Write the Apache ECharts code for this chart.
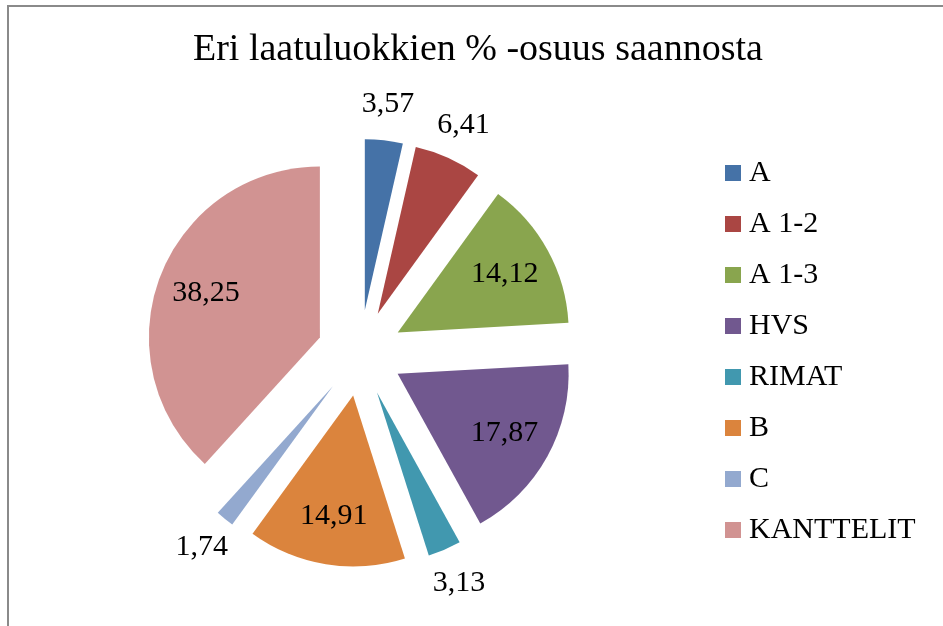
<!DOCTYPE html>
<html>
<head>
<meta charset="utf-8">
<style>
  html, body { margin: 0; padding: 0; background: #fff; }
  #chart { width: 943px; height: 626px; }
</style>
<script src="https://cdn.jsdelivr.net/npm/echarts@6/dist/echarts.min.js"></script>
</head>
<body>
<div id="chart"></div>
<script>
// laatuluokat ja osuudet (%)
var categories = ['A', 'A 1-2', 'A 1-3', 'HVS', 'RIMAT', 'B', 'C', 'KANTTELIT'];
var values = [3.57, 6.41, 14.12, 17.87, 3.13, 14.91, 1.74, 38.25];
var colors = ['#4572A7', '#AA4643', '#89A54E', '#71588F', '#4198AF', '#DB843D', '#93A9CF', '#D19392'];

var FONT = "'Liberation Serif', 'Times New Roman', serif";
var CX = 360, CY = 353, R = 171;
var EXPLODE = 43;

function fmt(p) {
    return p.value.toFixed(2).replace('.', ',');
}

// small slices get their label outside the slice, like excel's best fit
function sliceData(showLabel) {
    return categories.map(function (name, i) {
        return {
            name: name,
            value: values[i],
            selected: true,
            label: { show: showLabel(values[i]) }
        };
    });
}

function labelSeries(radius, showLabel) {
    return {
        type: 'pie',
        center: [CX, CY],
        radius: radius,
        selectedMode: 'multiple',
        selectedOffset: EXPLODE,
        silent: true,
        animation: false,
        avoidLabelOverlap: false,
        itemStyle: { color: 'rgba(0,0,0,0)', borderWidth: 0 },
        select: { itemStyle: { color: 'rgba(0,0,0,0)', borderWidth: 0 } },
        label: {
            position: 'inside',
            formatter: fmt,
            color: '#000',
            fontFamily: FONT,
            fontSize: 30
        },
        labelLine: { show: false },
        data: sliceData(showLabel)
    };
}

var chart = echarts.init(document.getElementById('chart'));

chart.setOption({
    animation: false,
    color: colors,
    title: {
        text: 'Eri laatuluokkien % -osuus saannosta',
        left: 193,
        top: 31,
        padding: 0,
        textStyle: { fontFamily: FONT, fontSize: 38, fontWeight: 'normal', color: '#000' }
    },
    legend: {
        orient: 'vertical',
        left: 725,
        top: 158,
        padding: 0,
        itemWidth: 16,
        itemHeight: 16,
        itemGap: 21,
        icon: 'rect',
        data: categories,
        textStyle: {
            fontFamily: FONT,
            fontSize: 30,
            lineHeight: 30,
            color: '#000',
            padding: [0, 0, 0, 3]
        }
    },
    graphic: [{
        type: 'rect',
        shape: { x: 8, y: 6, width: 1000, height: 1000 },
        style: { fill: 'none', stroke: '#8a8a8a', lineWidth: 2 },
        silent: true
    }],
    series: [
        {
            type: 'pie',
            center: [CX, CY],
            radius: [0, R],
            selectedMode: 'multiple',
            selectedOffset: EXPLODE,
            silent: true,
            animation: false,
            itemStyle: { borderWidth: 0 },
            label: { show: false },
            labelLine: { show: false },
            data: sliceData(function () { return false; })
        },
        labelSeries([67, R], function (v) { return v >= 10; }),
        labelSeries([R + 2, 236], function (v) { return v < 10; })
    ]
});
</script>
</body>
</html>
